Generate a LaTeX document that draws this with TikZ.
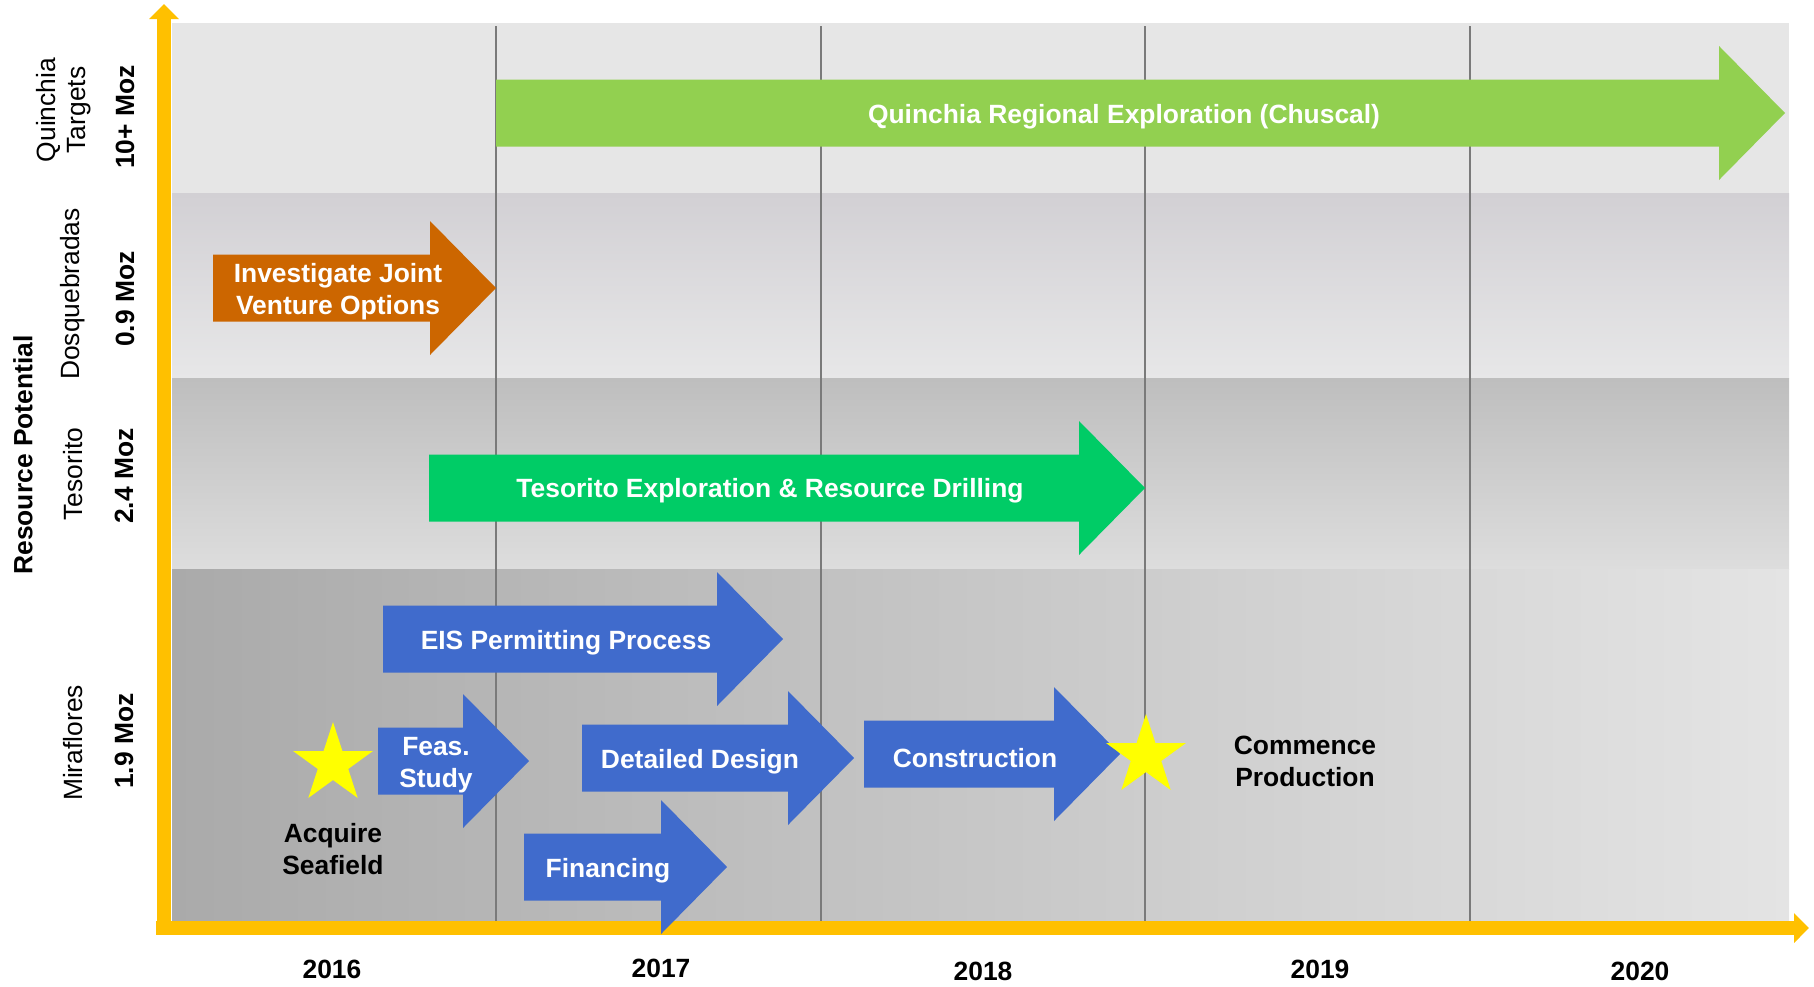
\documentclass[tikz,border=0pt]{standalone}
\usepackage{fontspec}
\setmainfont{Liberation Sans}
\usetikzlibrary{arrows.meta,shapes.geometric}
\definecolor{axisyellow}{HTML}{FFC000}
\definecolor{gridgray}{HTML}{7A7A7A}
\definecolor{quinband}{HTML}{E6E6E6}
\definecolor{dosqtop}{HTML}{D2D0D4}
\definecolor{dosqbot}{HTML}{E7E7E8}
\definecolor{tesotop}{HTML}{BEBEBE}
\definecolor{tesobot}{HTML}{DDDDDD}
\definecolor{miraleft}{HTML}{AAAAAA}
\definecolor{miraright}{HTML}{E4E4E4}
\definecolor{chusgreen}{HTML}{92D050}
\definecolor{tesogreen}{HTML}{00CC66}
\definecolor{jvorange}{HTML}{CC6600}
\definecolor{mirablue}{HTML}{406BCC}
\definecolor{staryellow}{HTML}{FFFF00}
% block arrow: [style](tail x, centre y, tip x)
\def\blockarrow[#1](#2,#3,#4){\fill[#1] (#2,#3-33.5) -- (#4-66,#3-33.5) -- (#4-66,#3-67) -- (#4,#3) -- (#4-66,#3+67) -- (#4-66,#3+33.5) -- (#2,#3+33.5) -- cycle;}

\begin{document}
\begin{tikzpicture}[x=0.5pt,y=-0.5pt,
		lbl/.style={font=\fontsize{13.2}{16}\selectfont\bfseries, align=center, inner sep=0},
		arrowtext/.style={lbl, text=white, yshift=-1.5pt},
		sidelbl/.style={font=\fontsize{13.2}{15}\selectfont, rotate=90, align=center, inner sep=0},
		sidebold/.style={sidelbl, font=\fontsize{13.2}{15}\selectfont\bfseries},
		grid/.style={draw=gridgray, line width=1.25pt},
		axis/.style={draw=axisyellow, line width=7pt, -{Triangle[width=14.5pt,length=7.5pt]}},
		starnode/.style={star, star points=5, star point ratio=2.618, fill=staryellow, minimum size=42pt, inner sep=0}]
				\useasboundingbox (0,0) rectangle (1814,986);
				
				% bands
				\fill[quinband] (172,23) rectangle (1789,193);
				\shade[top color=dosqtop, bottom color=dosqbot] (172,193) rectangle (1789,378);
				\shade[top color=tesotop, bottom color=tesobot] (172,378) rectangle (1789,569);
				\shade[left color=miraleft, right color=miraright] (172,569) rectangle (1789,922);
				
				% year lines
				\draw[grid] (496,26) -- (496,922);
				\draw[grid] (821,26) -- (821,922);
				\draw[grid] (1145,26) -- (1145,922);
				\draw[grid] (1470,26) -- (1470,922);
				
				% axes
				\draw[axis] (164,935) -- (164,4);
				\draw[axis] (156,928) -- (1809,928);
				
				% activities
				\blockarrow[chusgreen](496,113,1785);
				\node[arrowtext] (chuscal) at (1124,114) {Quinchia Regional Exploration (Chuscal)};
				
				\blockarrow[jvorange](213,288,496);
				\node[arrowtext] (jv) at (338,289) {Investigate Joint\\Venture Options};
				
				\blockarrow[tesogreen](429,488,1145);
				\node[arrowtext] (tesodrill) at (770,488) {Tesorito Exploration \& Resource Drilling};
				
				\blockarrow[mirablue](383,639,783);
				\node[arrowtext] (eis) at (566,640) {EIS Permitting Process};
				
				\blockarrow[mirablue](378,761,529);
				\node[arrowtext] (feas) at (436,762) {Feas.\\Study};
				
				\blockarrow[mirablue](582,758,854);
				\node[arrowtext] (design) at (700,759) {Detailed Design};
				
				\blockarrow[mirablue](524,867,727);
				\node[arrowtext] (finance) at (608,868) {Financing};
				
				\blockarrow[mirablue](864,754,1120);
				\node[arrowtext] (build) at (975,755) {Construction};
				
				% milestones
				\node[starnode] (acqstar) at (333,764) {};
				\node[lbl] (acquire) at (333,849) {Acquire\\Seafield};
				\node[starnode] (prodstar) at (1146,756) {};
				\node[lbl] (produce) at (1305,761) {Commence\\Production};
				
				% years
				\node[lbl] (y2016) at (332,969) {2016};
				\node[lbl] (y2017) at (661,968) {2017};
				\node[lbl] (y2018) at (983,971) {2018};
				\node[lbl] (y2019) at (1320,969) {2019};
				\node[lbl] (y2020) at (1640,971) {2020};
				
				% resource labels
				\node[sidebold] (respot) at (23,455) {Resource Potential};
				\node[sidelbl] (quin) at (64,110) {Quinchia\\Targets};
				\node[sidebold] (quinmoz) at (125,117) {10+ Moz};
				\node[sidelbl] (dosq) at (73,294) {Dosquebradas};
				\node[sidebold] (dosqmoz) at (125,299) {0.9 Moz};
				\node[sidelbl] (teso) at (73,474) {Tesorito};
				\node[sidebold] (tesomoz) at (124,476) {2.4 Moz};
				\node[sidelbl] (mira) at (73,743) {Miraflores};
				\node[sidebold] (miramoz) at (124,741) {1.9 Moz};
			\end{tikzpicture}
\end{document}
